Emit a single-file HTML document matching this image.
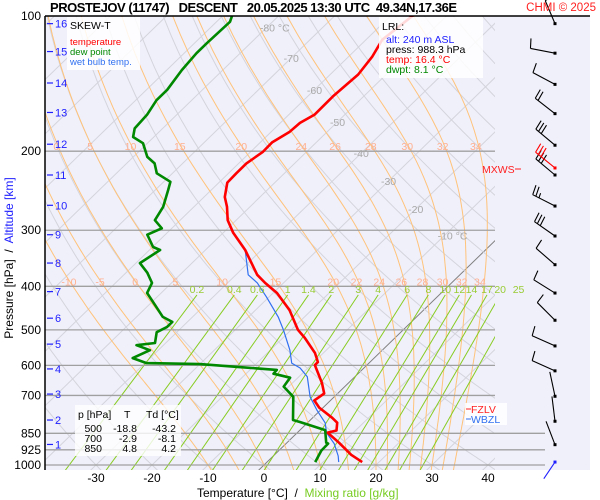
<!DOCTYPE html>
<html><head><meta charset="utf-8"><style>
html,body{margin:0;padding:0;background:#fff;}
svg{display:block;font-family:"Liberation Sans",sans-serif;}
</style></head><body>
<svg id="chart" width="600" height="500" viewBox="0 0 600 500" xmlns="http://www.w3.org/2000/svg">
<defs><clipPath id="plotclip"><rect x="45" y="16" width="450" height="454"/></clipPath></defs>
<rect x="45" y="16" width="545" height="454" fill="#f0f0fb"/>
<g id="grid" clip-path="url(#plotclip)"></g>
<g id="plevels"></g>
<g id="profiles" clip-path="url(#plotclip)"></g>
<g id="labels"></g>
<g id="barbs"></g>
<line x1="45" y1="16" x2="45" y2="470" stroke="#000" stroke-width="1.5"/>
<line x1="45" y1="16" x2="590" y2="16" stroke="#000" stroke-width="1.5"/>
<text x="50" y="12" font-size="13" font-weight="bold" textLength="407" xml:space="preserve">PROSTEJOV (11747)   DESCENT   20.05.2025 13:30 UTC  49.34N,17.36E</text>
<text x="596" y="11" font-size="11.5" fill="#ff2020" text-anchor="end">CHMI © 2025</text>
<g>
<rect x="67" y="17" width="73" height="53" fill="#fff" fill-opacity="0.85"/>
<text x="70" y="29" font-size="10.5">SKEW-T</text>
<text x="70" y="45" font-size="9.5" fill="#ff0000">temperature</text>
<text x="70" y="55" font-size="9.5" fill="#008800">dew point</text>
<text x="70" y="65" font-size="9.5" fill="#3070f0">wet bulb temp.</text>
</g>
<g>
<rect x="379" y="17" width="104" height="61" fill="#fff" fill-opacity="0.85"/>
<text x="382" y="30" font-size="10.5">LRL:</text>
<text x="386" y="43" font-size="10.5" fill="#2020ff">alt: 240 m ASL</text>
<text x="386" y="53" font-size="10.5">press: 988.3 hPa</text>
<text x="386" y="63" font-size="10.5" fill="#ff0000">temp: 16.4 °C</text>
<text x="386" y="73" font-size="10.5" fill="#008800">dwpt: 8.1 °C</text>
</g>
<g font-size="10.5">
<rect x="75" y="405" width="106" height="51" fill="#fff" fill-opacity="0.8"/>
<text x="78" y="418">p [hPa]</text><text x="124" y="418">T</text><text x="146" y="418">Td [°C]</text>
<text x="102" y="432" text-anchor="end">500</text><text x="137" y="432" text-anchor="end">-18.8</text><text x="176" y="432" text-anchor="end">-43.2</text>
<text x="102" y="442" text-anchor="end">700</text><text x="137" y="442" text-anchor="end">-2.9</text><text x="176" y="442" text-anchor="end">-8.1</text>
<text x="102" y="452" text-anchor="end">850</text><text x="137" y="452" text-anchor="end">4.8</text><text x="176" y="452" text-anchor="end">4.2</text>
</g>
<g font-size="10.5">
<text x="482" y="173" fill="#ff2020">MXWS</text><line x1="515" y1="169" x2="521" y2="169" stroke="#ff2020"/>
<rect x="465" y="403" width="42" height="22" fill="#fff" fill-opacity="0.85"/>
<line x1="466" y1="409" x2="471" y2="409" stroke="#ff2020"/><text x="471" y="413" fill="#ff2020">FZLV</text>
<line x1="466" y1="419" x2="471" y2="419" stroke="#3070f0"/><text x="471" y="423" fill="#3070f0">WBZL</text>
</g>
<text transform="translate(13,258) rotate(-90)" font-size="12" text-anchor="middle" xml:space="preserve">Pressure [hPa]  /  <tspan fill="#2020ff">Altitude [km]</tspan></text>
<text x="197" y="497" font-size="12" xml:space="preserve">Temperature [°C]  /  <tspan fill="#77cc22">Mixing ratio [g/kg]</tspan></text>
</svg>
<script>
// ---- data ----
const tempP = [985,949,892,847,838,805,785,745,718,693,657,599,590,563,521,500,452,414,393,377,332,304,285,266,253,235,224,213,201,191,181,173,166,151,135,123,113,99];
const tempT = [17.0,13.7,9.3,5.4,6.6,5.3,3.5,-0.7,-2.9,-2.4,-4.7,-9.3,-9.3,-11.5,-16.1,-18.8,-23.9,-29.3,-33.3,-36.2,-42.9,-48.2,-51.5,-54.1,-56.3,-58.5,-58.6,-58.6,-57.8,-57.9,-56.7,-56.5,-55.4,-55.5,-55.0,-55.8,-57.1,-56.0];
const dewP = [985,929,896,892,836,802,794,705,669,639,626,614,606,596,593,578,555,541,535,506,493,480,468,440,414,393,373,355,332,327,307,297,285,266,244,234,224,213,206,192,186,178,166,154,146,132,121,115,103,100];
const dewT = [8.6,7.6,7.5,7.0,4.5,-1.5,-3.1,-7.3,-10.9,-11.4,-15.1,-15.2,-21.8,-30.0,-39.7,-43.1,-41.5,-44.8,-41.9,-43.6,-42.7,-42.7,-45.3,-48.9,-52.5,-53.5,-56.2,-59.3,-58.1,-59.9,-63.2,-61.8,-64.5,-65.5,-67.7,-68.8,-72.8,-75.0,-77.5,-80.8,-83.7,-85.0,-85.3,-86.3,-86.3,-87.3,-87.8,-87.8,-87.6,-88.3];
const wbP = [985,955,896,847,806,754,705,636,608,593,555,500,468,423,393,377,332,304,285,266,253,235,224,213,201,191,181,173,166,151,135,123,113,99];
const wbT = [12.8,11.6,8.6,5.2,3.2,-0.7,-4.3,-8.5,-11.4,-13.8,-16.5,-21.4,-24.7,-30.4,-34.7,-37.8,-42.9,-48.2,-51.5,-54.1,-56.3,-58.5,-58.6,-58.6,-57.8,-57.9,-56.7,-56.5,-55.4,-55.5,-55.0,-55.8,-57.1,-56.0];
const barbP = [104,121,142,165,194,226,265,309,358,414,476,543,617,703,799,901];
const barbDir = [337,281,298,308,310,310,297,305,311,302,315,294,294,348,353,339];
const barbSpd = [10,10,10,20,30,30,25,30,10,10,10,10,10,2,2,2];
const mxwsP = 218, mxwsDir = 309, mxwsSpd = 30;
const sfcP = 985, sfcDir = 214, sfcSpd = 2;
const pLevels = [200,300,400,500,600,700,850,925,1000];
const pLabels = [100,200,300,400,500,600,700,850,925,1000];
const altKm = [16,15,14,13,12,11,10,9,8,7,6,5,4,3,2,1];
const altP = [104,120,141,164,193,226,264,307,355,411,471,538,611,695,794,900];
const tTicks = [-30,-20,-10,0,10,20,30,40];
const isoLabels = [-80,-70,-60,-50,-40,-30,-20,-10];
const isoLabelP = [106,124,146,172,202,233,269,308];
const moistTheta = [-10,-5,0,5,10,15,20,22,24,26,28,30,32,34];
const moistLbl200 = [0,5,10,15,20,24,26,28,30,32,34];
const moistLbl400 = [-10,-5,0,5,10,15,20,22,24,26,28,30,32,34];
const mixRatios = [0.2,0.4,0.6,1,1.4,2,3,4,6,8,10,12,14,17,20,25];

// ---- axes ----
const NS = 'http://www.w3.org/2000/svg';
function yP(p){ return 16 + 195*Math.log(p/100); }
function xT(T,p){ return 264 + 5.6*T + 1.03*(465 - yP(p)); }
function mk(tag, attrs, parent){ const e=document.createElementNS(NS,tag); for(const k in attrs) e.setAttribute(k,attrs[k]); parent.appendChild(e); return e; }
const grid=document.getElementById('grid'), plev=document.getElementById('plevels'), prof=document.getElementById('profiles'), lab=document.getElementById('labels'), barbs=document.getElementById('barbs');

// isotherms
for(let T=-130;T<=50;T+=10){
  const l=mk('line',{x1:xT(T,1030),y1:yP(1030),x2:xT(T,100),y2:yP(100),stroke:T===0?'#808080':'#d4d4dc','stroke-width':1},grid);
  
  
}
// dry adiabats
for(let th=-40;th<=220;th+=10){
  let d='';
  for(let p=1030;p>=100;p-=10){ const T=(th+273.15)*Math.pow(p/1000,0.2857)-273.15; d+=(d?'L':'M')+xT(T,p).toFixed(1)+','+yP(p).toFixed(1); }
  const e=mk('path',{d:d,fill:'none',stroke:'#d4d4dc','stroke-width':1},grid);
  
  
}
// moist adiabats
function es(T){ return 6.112*Math.exp(17.67*T/(T+243.5)); }
function dTdp(T,p){ const Tk=T+273.15, e=es(T), rs=0.622*e/(p-e); return (287*Tk+2.5e6*rs)/(p*(1005+2.5e6*2.5e6*rs*0.622/(287*Tk*Tk))); }
function moistT(th,pt){
  let T=th, p=1000;
  if(pt < 1000){ while(p > pt){ const dp=Math.min(2,p-pt); T-=dTdp(T,p)*dp; p-=dp; } }
  else { while(p < pt){ const dp=Math.min(2,pt-p); T+=dTdp(T,p)*dp; p+=dp; } }
  return T;
}
moistTheta.forEach(th=>{
  let d='';
  for(let p=1030;p>=100;p-=10){ const T=moistT(th,p); d+=(d?'L':'M')+xT(T,p).toFixed(1)+','+yP(p).toFixed(1); }
  const e=mk('path',{d:d,fill:'none',stroke:'#ffc37a','stroke-width':1},grid);
  
  
});
// mixing ratio lines
function tdFromW(w,p){ const e=w*p/(622+w); const a=Math.log(e/6.112); return 243.5*a/(17.67-a); }
mixRatios.forEach(w=>{
  const e=mk('line',{x1:xT(tdFromW(w,1030),1030),y1:yP(1030),x2:xT(tdFromW(w,418),418),y2:yP(418),stroke:'#88cc22','stroke-width':1},grid);
  
  
  const t=mk('text',{x:xT(tdFromW(w,418),418),y:yP(418)-2,'font-size':10.5,fill:'#99cc33','text-anchor':'middle'},lab);
  t.textContent=String(w);
  
  
});
// pressure lines
pLevels.forEach(p=>{
  const x2=p>=850?545:495;
  const e=mk('line',{x1:45,y1:yP(p),x2:x2,y2:yP(p),stroke:'#a0a0a0','stroke-width':1.3},plev);
  
  
});
// isotherm labels
isoLabels.forEach((T,i)=>{
  const p=isoLabelP[i];
  const t=mk('text',{x:xT(T,p)+(T===-80||T===-10?8:0),y:yP(p)+4,'font-size':10.5,fill:'#a8a8a8','text-anchor':'middle'},lab);
  t.textContent=(T===-80||T===-10)?T+' °C':String(T);
  
  
});
// moist adiabat labels
moistLbl200.forEach(th=>{
  const t=mk('text',{x:xT(moistT(th,200),200)-4,y:yP(200)-1,'font-size':10.5,fill:'#ffb090','text-anchor':'middle'},lab);
  t.textContent=String(th);
  
  
});
moistLbl400.forEach(th=>{
  const t=mk('text',{x:xT(moistT(th,400),400)-4,y:yP(400)-1,'font-size':10.5,fill:'#ffb090','text-anchor':'middle'},lab);
  t.textContent=String(th);
  
  
});
// profiles
function profile(P,T,color,w,name){
  let d=''; P.forEach((p,i)=>{ d+=(i?'L':'M')+xT(T[i],p).toFixed(1)+','+yP(p).toFixed(1); });
  const e=mk('path',{d:d,fill:'none',stroke:color,'stroke-width':w,'stroke-linejoin':'round'},prof);
  
  
}
profile(wbP,wbT,'#3070f0',1.2,'wet-bulb-line');
profile(tempP,tempT,'#ff0000',2.6,'temperature-line');
profile(dewP,dewT,'#008800',2.6,'dew-point-line');
// pressure axis labels
pLabels.forEach(p=>{
  const t=mk('text',{x:41,y:yP(p)+4,'font-size':12,'text-anchor':'end'},lab);
  t.textContent=String(p);
  
  
});
// altitude labels
altKm.forEach((k,i)=>{
  const y=yP(altP[i]);
  mk('line',{x1:47,y1:y,x2:53,y2:y,stroke:'#2020ff','stroke-width':1.2},lab);
  const t=mk('text',{x:55,y:y+4,'font-size':11,fill:'#2020ff'},lab);
  t.textContent=String(k);
  
  
});
// x ticks
tTicks.forEach(T=>{
  const t=mk('text',{x:xT(T,1000),y:482,'font-size':12,'text-anchor':'middle'},lab);
  t.textContent=String(T);
  
  
});
// wind barbs
function barb(p,dir,spd,color,len){
  const x0=555,y0=yP(p), r=dir*Math.PI/180, ux=Math.sin(r), uy=-Math.cos(r);
  const g=mk('g',{stroke:color,'stroke-width':1.1,fill:'none'},barbs);
  
  
  mk('line',{x1:x0,y1:y0,x2:x0+ux*len,y2:y0+uy*len},g);
  mk('rect',{x:x0-1.5,y:y0-1.5,width:3,height:3,fill:color,stroke:'none'},g);
  const th=82*Math.PI/180, bx=ux*Math.cos(th)-uy*Math.sin(th), by=ux*Math.sin(th)+uy*Math.cos(th);
  let s=spd, pos=len;
  while(s>=10){ const px=x0+ux*pos, py=y0+uy*pos; mk('line',{x1:px,y1:py,x2:px+bx*10,y2:py+by*10},g); s-=10; pos-=3.5; }
  if(s>=5){ const px=x0+ux*pos, py=y0+uy*pos; mk('line',{x1:px,y1:py,x2:px+bx*5,y2:py+by*5},g); }
}
barbP.forEach((p,i)=>barb(p,barbDir[i],barbSpd[i],'#000',25));
barb(mxwsP,mxwsDir,mxwsSpd,'#ff0000',25);
barb(sfcP,sfcDir,sfcSpd,'#2020ff',20);
</script>
</body></html>
